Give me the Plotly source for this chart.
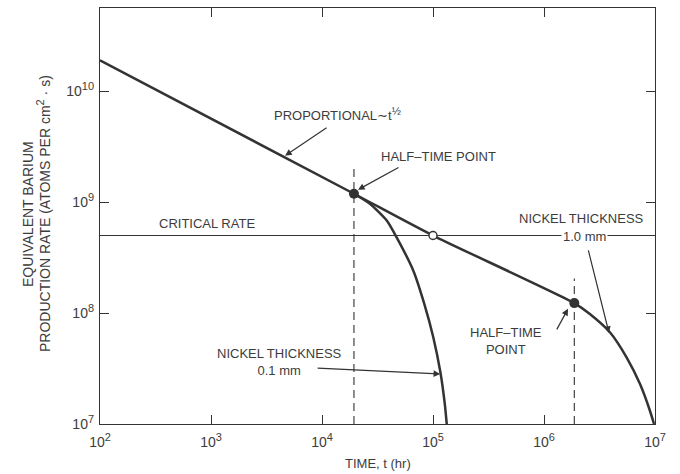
import math
import plotly.graph_objects as go

# ---- data ----
t_thick = [1e2, 1.94e4, 1.0e5, 1.875e6, 2.59e6, 3.94e6, 5.56e6, 7.33e6, 9.02e6, 9.8e6]
rate_thick = [1.9e10, 1.19e9, 5.0e8, 1.23e8, 9.8e7, 6.68e7, 3.97e7, 2.29e7, 1.31e7, 1.0e7]

t_thin = [1.94e4, 2.70e4, 3.83e4, 4.61e4, 6.65e4, 8.36e4, 1.007e5, 1.168e5, 1.278e5, 1.33e5]
rate_thin = [1.19e9, 9.66e8, 6.82e8, 4.99e8, 2.41e8, 1.205e8, 6.03e7, 2.90e7, 1.51e7, 1.0e7]

t_half = [1.94e4, 1.875e6]
rate_half = [1.19e9, 1.23e8]
dash_top = [2.0e9, 2.05e8]

t_cross = [1.0e5]
rate_cross = [5.0e8]

critical_rate = 5.0e8
x_span = [1e2, 1e7]

SUP = "<sup><span style='font-size:11px'>{}</span></sup>"
x_ticks = [1e2, 1e3, 1e4, 1e5, 1e6, 1e7]
x_tick_labels = ["10" + SUP.format(e) for e in ["2", "3", "4", "5", "6", "7"]]
y_ticks = [1e7, 1e8, 1e9, 1e10]
y_tick_labels = ["10" + SUP.format(e) for e in ["7", "8", "9", "10"]]

INK = "#333333"
TXT = "#3c3c3c"
FONT = "Liberation Sans, Arial, sans-serif"

fig = go.Figure()

# critical rate line
fig.add_trace(go.Scatter(x=x_span, y=[critical_rate, critical_rate], mode="lines",
                         line=dict(color=INK, width=1.1), hoverinfo="skip"))
# half-time dashed verticals
for t, top in zip(t_half, dash_top):
    fig.add_trace(go.Scatter(x=[t, t], y=[1e7, top], mode="lines",
                             line=dict(color=INK, width=1.1, dash="8px,5px"),
                             hoverinfo="skip"))
# curves
fig.add_trace(go.Scatter(x=t_thick, y=rate_thick, mode="lines",
                         line=dict(color=INK, width=2.5, shape="spline", smoothing=0.6)))
fig.add_trace(go.Scatter(x=t_thin, y=rate_thin, mode="lines",
                         line=dict(color=INK, width=2.5, shape="spline", smoothing=0.6)))
# markers
fig.add_trace(go.Scatter(x=t_half, y=rate_half, mode="markers",
                         marker=dict(color=INK, size=10)))
fig.add_trace(go.Scatter(x=t_cross, y=rate_cross, mode="markers",
                         marker=dict(color="white", size=8, line=dict(color=INK, width=1.4))))

L = math.log10
# arrows (tip in data coordinates, tail as pixel offsets)
arrows = [
    (L(4.65e3), 9.419, 43, -29),      # proportional
    (L(2.11e4), 9.112, 42, -23),      # half-time 1
    (L(3.85e6), 7.821, -21, -84),     # nickel 1.0 mm
    (L(1.645e6), 8.038, -12, 22),     # half-time 2
    (L(1.16e5), 7.451, -124, -6),     # nickel 0.1 mm
]
for ax_, ay_, dx, dy in arrows:
    fig.add_annotation(x=ax_, y=ay_, xref="x", yref="y", text="", showarrow=True,
                       ax=dx, ay=dy, arrowhead=2, arrowsize=1.1, arrowwidth=1.2,
                       arrowcolor=INK)


def px(xp, yp):
    return (xp - 100) / 555.0, (424 - yp) / 416.0


LBL = 13
labels = [
    ("CRITICAL RATE", 207, 224),
    ("PROPORTIONAL\u223ct" + SUP.format("\u00bd"), 337, 114),
    ("HALF\u2013TIME POINT", 438, 157),
    ("NICKEL THICKNESS", 581, 218),
    ("HALF\u2013TIME<br>POINT", 506, 341),
    ("NICKEL THICKNESS<br>0.1 mm", 279, 362),
]
for text, xp, yp in labels:
    xx, yy = px(xp, yp)
    fig.add_annotation(x=xx, y=yy, xref="paper", yref="paper", text=text,
                       showarrow=False, align="center", xanchor="center", yanchor="middle",
                       font=dict(size=LBL, color=TXT, family=FONT))
xx, yy = px(584, 236)
fig.add_annotation(x=xx, y=yy, xref="paper", yref="paper", text="1.0 mm",
                   showarrow=False, bgcolor="white", borderpad=1,
                   xanchor="center", yanchor="middle",
                   font=dict(size=LBL, color=TXT, family=FONT))

# axis titles
xx, yy = px(378, 463)
fig.add_annotation(x=xx, y=yy, xref="paper", yref="paper", text="TIME, t (hr)",
                   showarrow=False, xanchor="center", yanchor="middle",
                   font=dict(size=13, color=TXT, family=FONT))
for text, xp in [("EQUIVALENT BARIUM", 28),
                 ("PRODUCTION RATE (ATOMS PER cm" + SUP.format("2") + " \u00b7 s)", 43)]:
    xx, yy = px(xp, 214)
    fig.add_annotation(x=xx, y=yy, xref="paper", yref="paper", text=text,
                       showarrow=False, textangle=-90, xanchor="center", yanchor="middle",
                       font=dict(size=14, color=TXT, family=FONT))

axis_common = dict(showgrid=False, zeroline=False, showline=True, linecolor=INK,
                   linewidth=1.3, mirror="ticks", ticks="inside", ticklen=9,
                   tickwidth=1.1, tickcolor=INK,
                   tickfont=dict(size=14, color=TXT, family=FONT))
fig.update_xaxes(type="log", range=[2, 7], tickvals=x_ticks, ticktext=x_tick_labels,
                 ticklabelstandoff=5, **axis_common)
fig.update_yaxes(type="log", range=[7, 10.75], tickvals=y_ticks, ticktext=y_tick_labels,
                 ticklabelstandoff=2, **axis_common)

fig.update_layout(width=680, height=474, showlegend=False,
                  margin=dict(l=100, r=25, t=8, b=50),
                  paper_bgcolor="white", plot_bgcolor="white",
                  font=dict(family=FONT, color=TXT))

fig.write_html("out.html")
